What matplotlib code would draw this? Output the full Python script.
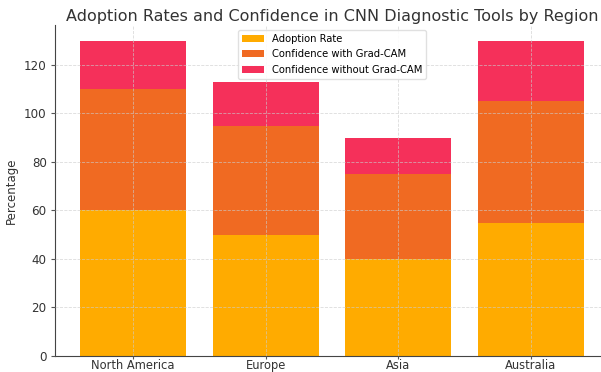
import numpy as np
import matplotlib.pyplot as plt

regions = ["North America", "Europe", "Asia", "Australia"]
adoption = [60, 50, 40, 55]
with_gradcam = [50, 45, 35, 50]
without_gradcam = [20, 18, 15, 25]

fig = plt.figure(figsize=(6.01, 3.72), dpi=100)
ax = fig.add_axes([0.0915, 0.043, 0.922, 0.89])

x = np.arange(len(regions))
base2 = np.array(adoption)
base3 = base2 + np.array(with_gradcam)

ax.bar(x, adoption, width=0.8, color="#FFAB00", label="Adoption Rate")
ax.bar(x, with_gradcam, width=0.8, bottom=base2, color="#F06A22", label="Confidence with Grad-CAM")
ax.bar(x, without_gradcam, width=0.8, bottom=base3, color="#F5305A", label="Confidence without Grad-CAM")

ax.set_xticks(x)
ax.set_xticklabels(regions, fontsize=8.3, color="#333333")
ax.tick_params(axis="y", labelsize=8.6, labelcolor="#333333", pad=3, length=3)
ax.tick_params(axis="x", pad=0.5, length=2)
ax.tick_params(color="#555555")
ax.set_ylabel("Percentage", fontsize=8.5, color="#333333", labelpad=4)
ax.set_title("Adoption Rates and Confidence in CNN Diagnostic Tools by Region",
             fontsize=11.5, color="#333333", pad=3)

ax.grid(True, linestyle="--", linewidth=0.6, color="#cccccc", alpha=0.7)
ax.set_axisbelow(False)
for s in ["top", "right"]:
    ax.spines[s].set_visible(False)
for s in ["left", "bottom"]:
    ax.spines[s].set_color("#444444")

ax.legend(loc="upper center", fontsize=7.2, framealpha=0.9, edgecolor="#dddddd",
          bbox_to_anchor=(0.5, 1.0), handlelength=2.2, labelspacing=0.55)

fig.savefig("out.png", dpi=100)
